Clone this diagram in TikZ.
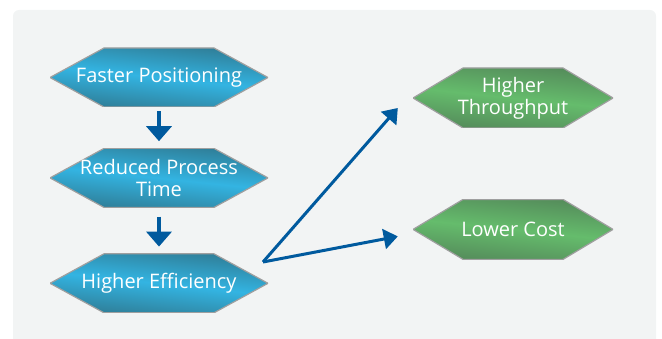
\documentclass[tikz,border=0pt]{standalone}
\usepackage{fontspec}
\setmainfont{Open Sans}
\usepackage{tikz}
\usetikzlibrary{positioning,arrows.meta}

\definecolor{paneback}{HTML}{F2F4F4}
\definecolor{bluedark}{HTML}{2F7C95}
\definecolor{bluelight}{HTML}{33B4E2}
\definecolor{greendark}{HTML}{548A5A}
\definecolor{greenlight}{HTML}{65BC6C}
\definecolor{arrowblue}{HTML}{005A9E}

\tikzset{
    hexinset/.store in=\hexinset, hexinset=54pt,
    hexdark/.store in=\hexdark, hexdark=bluedark,
    hexlight/.store in=\hexlight, hexlight=bluelight,
    hexbox/.style={rectangle, text=white, align=center, inner sep=0pt,
        font=\fontsize{20}{22}\selectfont,
        path picture={
            \shade[top color=\hexdark, bottom color=\hexdark, middle color=\hexlight,
                shading angle=-6, draw=gray!75, line width=1.2pt]
                (path picture bounding box.west)
                -- ([xshift=\hexinset]path picture bounding box.north west)
                -- ([xshift=-\hexinset]path picture bounding box.north east)
                -- (path picture bounding box.east)
                -- ([xshift=-\hexinset]path picture bounding box.south east)
                -- ([xshift=\hexinset]path picture bounding box.south west)
                -- cycle;
        }},
}

\begin{document}
\begin{tikzpicture}[x=1pt, y=1pt, node distance=41pt,
    bluehex/.style={hexbox, minimum width=218pt, minimum height=59pt, hexinset=54pt,
        hexdark=bluedark, hexlight=bluelight},
    greenhex/.style={hexbox, minimum width=200pt, minimum height=60pt, hexinset=50pt,
        hexdark=greendark, hexlight=greenlight},
    downarrow/.style={draw=arrowblue, line width=4pt, -{Triangle[width=25pt,length=15pt]},
        shorten >=7pt},
    fanarrow/.style={draw=arrowblue, line width=3pt, -{Triangle[width=20pt,length=14pt]}}]
    \useasboundingbox (0,0) rectangle (662,338);
    \fill[paneback, rounded corners=6pt] (13,-10) rectangle (656,328);

    \node[bluehex] (faster) at (159,260.5) {Faster Positioning};
    \node[bluehex] (reduced) [below=of faster] {Reduced Process\\Time};
    \node[bluehex] (efficiency) [below=46pt of reduced] {Higher Efficiency};
    \node[greenhex] (throughput) at (513,240) {Higher\\Throughput};
    \node[greenhex] (cost) [below=71pt of throughput] {Lower Cost};

    \coordinate (fork) at (263,76);

    \draw[downarrow, shorten <=4pt] (faster.south) -- (reduced.north);
    \draw[downarrow, shorten <=9pt] (reduced.south) -- (efficiency.north);
    \draw[fanarrow] (fork) -- ([shift={(-15pt,-10pt)}]throughput.west);
    \draw[fanarrow] (fork) -- ([shift={(-15pt,-7pt)}]cost.west);
\end{tikzpicture}
\end{document}
